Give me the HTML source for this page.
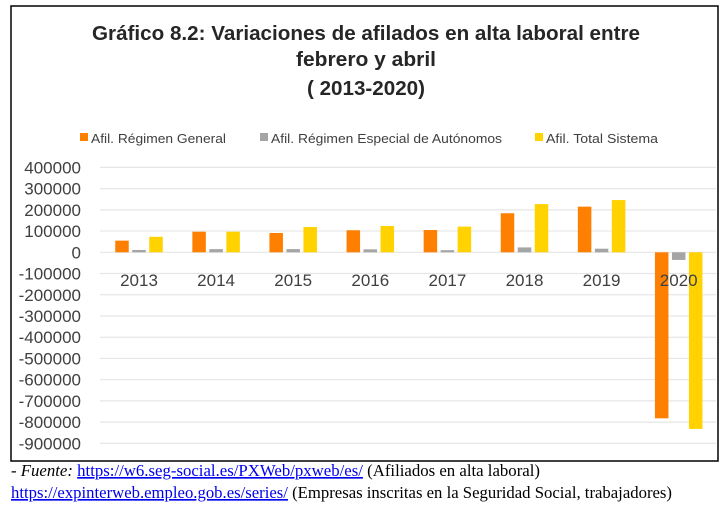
<!DOCTYPE html>
<html><head><meta charset="utf-8"><style>
html,body{margin:0;padding:0;background:#fff;}
svg{display:block;}
</style></head><body>
<svg width="725" height="515" viewBox="0 0 725 515" xmlns="http://www.w3.org/2000/svg">
<rect x="11" y="6" width="707" height="455" fill="#fff" stroke="#000" stroke-width="1.5"/>
<g font-family="Liberation Sans, sans-serif" font-weight="bold" fill="#262626" text-anchor="middle" font-size="20">
<text x="366" y="40" textLength="548" lengthAdjust="spacingAndGlyphs">Gráfico 8.2: Variaciones  de afilados en alta laboral entre</text>
<text x="366" y="66" textLength="140" lengthAdjust="spacingAndGlyphs">febrero y abril</text>
<text x="366" y="95" textLength="118" lengthAdjust="spacingAndGlyphs">( 2013-2020)</text>
</g>
<g font-family="Liberation Sans, sans-serif" font-size="13" fill="#404040">
<rect x="80" y="133" width="8" height="8" fill="#FF7F00"/>
<text x="91" y="143" textLength="135" lengthAdjust="spacingAndGlyphs">Afil. Régimen General</text>
<rect x="260" y="133" width="8" height="8" fill="#A5A5A5"/>
<text x="271" y="143" textLength="231" lengthAdjust="spacingAndGlyphs">Afil. Régimen Especial de Autónomos</text>
<rect x="535" y="133" width="8" height="8" fill="#FFD200"/>
<text x="546" y="143" textLength="112" lengthAdjust="spacingAndGlyphs">Afil. Total Sistema</text>
</g>
<g id="grid"></g>
<g id="yticks" font-family="Liberation Sans, sans-serif" font-size="17" fill="#404040" text-anchor="end"></g>
<g id="bars"></g>
<g id="xticks" font-family="Liberation Sans, sans-serif" font-size="17" fill="#404040" text-anchor="middle"></g>
<g font-family="Liberation Serif, serif" font-size="16.5" fill="#000">
<text x="11" y="476" textLength="529" lengthAdjust="spacingAndGlyphs"><tspan font-style="italic">- Fuente:</tspan> <tspan fill="#0000EE" text-decoration="underline">https://w6.seg-social.es/PXWeb/pxweb/es/</tspan> (Afiliados en alta laboral)</text>
<text x="11" y="498" textLength="661" lengthAdjust="spacingAndGlyphs"><tspan fill="#0000EE" text-decoration="underline">https://expinterweb.empleo.gob.es/series/</tspan> (Empresas inscritas en la Seguridad Social, trabajadores)</text>
</g>
</svg>
<script>
const categories = ["2013","2014","2015","2016","2017","2018","2019","2020"];
const general = [55000, 97000, 91000, 104000, 105000, 184000, 215000, -782000];
const autonomos = [11000, 15000, 15000, 14000, 10000, 23000, 17000, -36000];
const total = [73000, 97000, 119000, 124000, 121000, 227000, 246000, -832000];
const yTicks = [400000,300000,200000,100000,0,-100000,-200000,-300000,-400000,-500000,-600000,-700000,-800000,-900000];

const NS = "http://www.w3.org/2000/svg";
const y0 = 252.3, pxPer = 0.0002123;
function yScale(v){ return y0 - v*pxPer; }
const step = 77.1, firstCenter = 139;
function xCenter(i){ return firstCenter + i*step; }
const plotL = 100, plotR = 716;

const grid = document.getElementById("grid");
const yt = document.getElementById("yticks");
yTicks.forEach(v=>{
  const l = document.createElementNS(NS,"line");
  l.setAttribute("x1",plotL); l.setAttribute("x2",plotR);
  l.setAttribute("y1",yScale(v)); l.setAttribute("y2",yScale(v));
  l.setAttribute("stroke","#e6e6e6"); l.setAttribute("stroke-width","1.2");
  
  
  grid.appendChild(l);
  const t = document.createElementNS(NS,"text");
  t.setAttribute("x",81); t.setAttribute("y",yScale(v)+6);
  t.textContent = String(v);
  
  
  yt.appendChild(t);
});

const bars = document.getElementById("bars");
const series = [[general,"#FF7F00",-17],[autonomos,"#A5A5A5",0],[total,"#FFD200",17]];
const bw = 13.5;
categories.forEach((c,i)=>{
  series.forEach(([vals,color,off])=>{
    const v = vals[i];
    const r = document.createElementNS(NS,"rect");
    const ya = yScale(Math.max(v,0)), yb = yScale(Math.min(v,0));
    r.setAttribute("x", xCenter(i)+off-bw/2);
    r.setAttribute("y", ya);
    r.setAttribute("width", bw);
    r.setAttribute("height", Math.max(yb-ya, 0.5));
    r.setAttribute("fill", color);
    
    
    bars.appendChild(r);
  });
});
const xt = document.getElementById("xticks");
categories.forEach((c,i)=>{
  const t = document.createElementNS(NS,"text");
  t.setAttribute("x", xCenter(i)); t.setAttribute("y", 286);
  t.textContent = c;
  
  
  xt.appendChild(t);
});
</script>
</body></html>
